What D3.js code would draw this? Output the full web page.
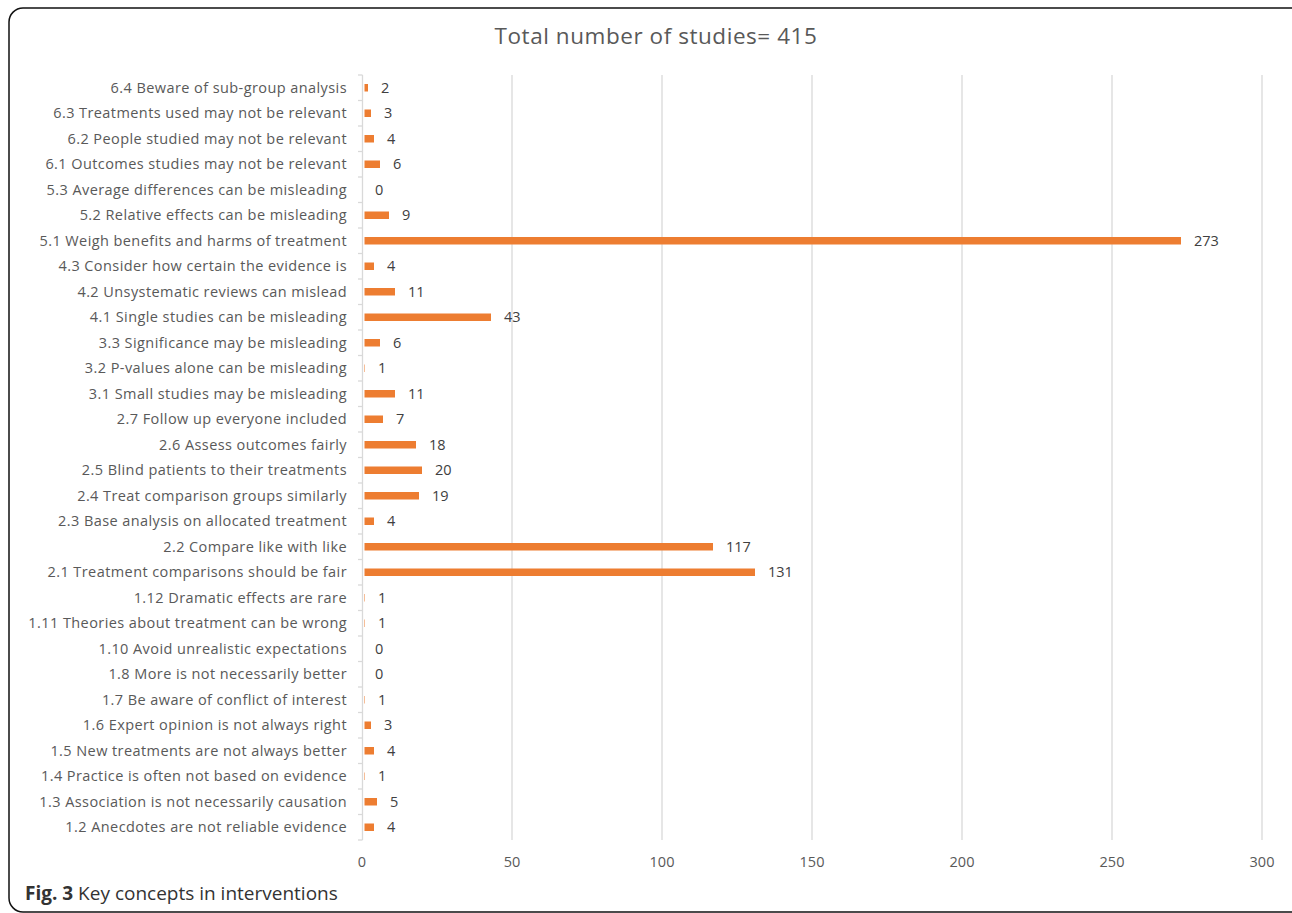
<!DOCTYPE html>
<html>
<head>
<meta charset="utf-8">
<script src="https://cdn.jsdelivr.net/npm/d3@7"></script>
<style>
  html, body { margin: 0; padding: 0; background: #fff; }
  svg { display: block; }
</style>
</head>
<body>
<svg id="chart" width="1292" height="913"></svg>
<script>
const categories = [
  "6.4 Beware of sub-group analysis",
  "6.3 Treatments used may not be relevant",
  "6.2 People studied may not be relevant",
  "6.1 Outcomes studies may not be relevant",
  "5.3 Average differences can be misleading",
  "5.2 Relative effects can be misleading",
  "5.1 Weigh benefits and harms of treatment",
  "4.3 Consider how certain the evidence is",
  "4.2 Unsystematic reviews can mislead",
  "4.1 Single studies can be misleading",
  "3.3 Significance may be misleading",
  "3.2 P-values alone can be misleading",
  "3.1 Small studies may be misleading",
  "2.7 Follow up everyone included",
  "2.6 Assess outcomes fairly",
  "2.5 Blind patients to their treatments",
  "2.4 Treat comparison groups similarly",
  "2.3 Base analysis on allocated treatment",
  "2.2 Compare like with like",
  "2.1 Treatment comparisons should be fair",
  "1.12 Dramatic effects are rare",
  "1.11 Theories about treatment can be wrong",
  "1.10 Avoid unrealistic expectations",
  "1.8 More is not necessarily better",
  "1.7 Be aware of conflict of interest",
  "1.6 Expert opinion is not always right",
  "1.5 New treatments are not always better",
  "1.4 Practice is often not based on evidence",
  "1.3 Association is not necessarily causation",
  "1.2 Anecdotes are not reliable evidence"
];
const values = [2, 3, 4, 6, 0, 9, 273, 4, 11, 43, 6, 1, 11, 7, 18, 20, 19, 4, 117, 131, 1, 1, 0, 0, 1, 3, 4, 1, 5, 4];
const xTicks = [0, 50, 100, 150, 200, 250, 300];
const titleText = "Total number of studies= 415";

(function () {
const svg = d3.select("#chart");
const font = "'Open Sans', 'Noto Sans', sans-serif";

// frame
svg.append("rect")
  .attr("x", 9).attr("y", 8)
  .attr("width", 1300).attr("height", 904)
  .attr("rx", 14).attr("ry", 14)
  .attr("fill", "none").attr("stroke", "#111").attr("stroke-width", 1.5);

const pL = 362, pR = 1262, pT = 75, pB = 840;
const x = d3.scaleLinear().domain([0, 300]).range([pL, pR]);
const y = d3.scaleBand().domain(categories).range([pT, pB]).paddingInner(0).paddingOuter(0);

// gridlines
svg.append("g").selectAll("line").data(xTicks.slice(1)).join("line")
  .attr("x1", d => x(d)).attr("x2", d => x(d))
  .attr("y1", pT).attr("y2", pB)
  .attr("stroke", "#d9d9d9").attr("stroke-width", 1.3);

// y axis line & ticks
svg.append("line")
  .attr("x1", pL + 0.5).attr("x2", pL + 0.5)
  .attr("y1", pT).attr("y2", pB)
  .attr("stroke", "#d9d9d9").attr("stroke-width", 1.3);
const bounds = categories.map(c => y(c)).concat([pB]);
svg.append("g").selectAll("line").data(bounds).join("line")
  .attr("x1", pL - 4).attr("x2", pL + 0.5)
  .attr("y1", d => d).attr("y2", d => d)
  .attr("stroke", "#d9d9d9").attr("stroke-width", 1.3);

// bars
const barH = 7.5;
const x0 = x(0) + 2.5;
svg.append("g").selectAll("rect").data(values).join("rect")
  .attr("x", x0)
  .attr("y", (d, i) => y(categories[i]) + y.bandwidth() / 2 - barH / 2)
  .attr("width", d => Math.max(0, x(d) - x0))
  .attr("height", barH)
  .attr("fill", "#ed7d31");

// value labels
svg.append("g").selectAll("text").data(values).join("text")
  .attr("x", d => x(d) + 13)
  .attr("y", (d, i) => y(categories[i]) + y.bandwidth() / 2)
  .attr("dy", "0.36em")
  .attr("font-family", font).attr("font-size", 14.5)
  .attr("fill", "#404040")
  .text(d => d);

// category labels
svg.append("g").selectAll("text").data(categories).join("text")
  .attr("x", 347)
  .attr("y", d => y(d) + y.bandwidth() / 2)
  .attr("dy", "0.36em")
  .attr("text-anchor", "end")
  .attr("font-family", font).attr("font-size", 14.5)
  .attr("letter-spacing", 0.42)
  .attr("fill", "#595959")
  .text(d => d);

// x tick labels
svg.append("g").selectAll("text").data(xTicks).join("text")
  .attr("x", d => x(d))
  .attr("y", 862)
  .attr("dy", "0.36em")
  .attr("text-anchor", "middle")
  .attr("font-family", font).attr("font-size", 14.5)
  .attr("fill", "#595959")
  .text(d => d);

// title
svg.append("text")
  .attr("x", 656).attr("y", 36)
  .attr("dy", "0.36em")
  .attr("text-anchor", "middle")
  .attr("font-family", font).attr("font-size", 22.5)
  .attr("letter-spacing", 0.55)
  .attr("fill", "#595959")
  .text(titleText);

// caption
const cap = svg.append("text")
  .attr("x", 25).attr("y", 900)
  .attr("font-family", font).attr("font-size", 19)
  .attr("fill", "#333");
cap.append("tspan").attr("font-weight", "bold").text("Fig. 3");
cap.append("tspan").text(" Key concepts in interventions");
})();
</script>
</body>
</html>
